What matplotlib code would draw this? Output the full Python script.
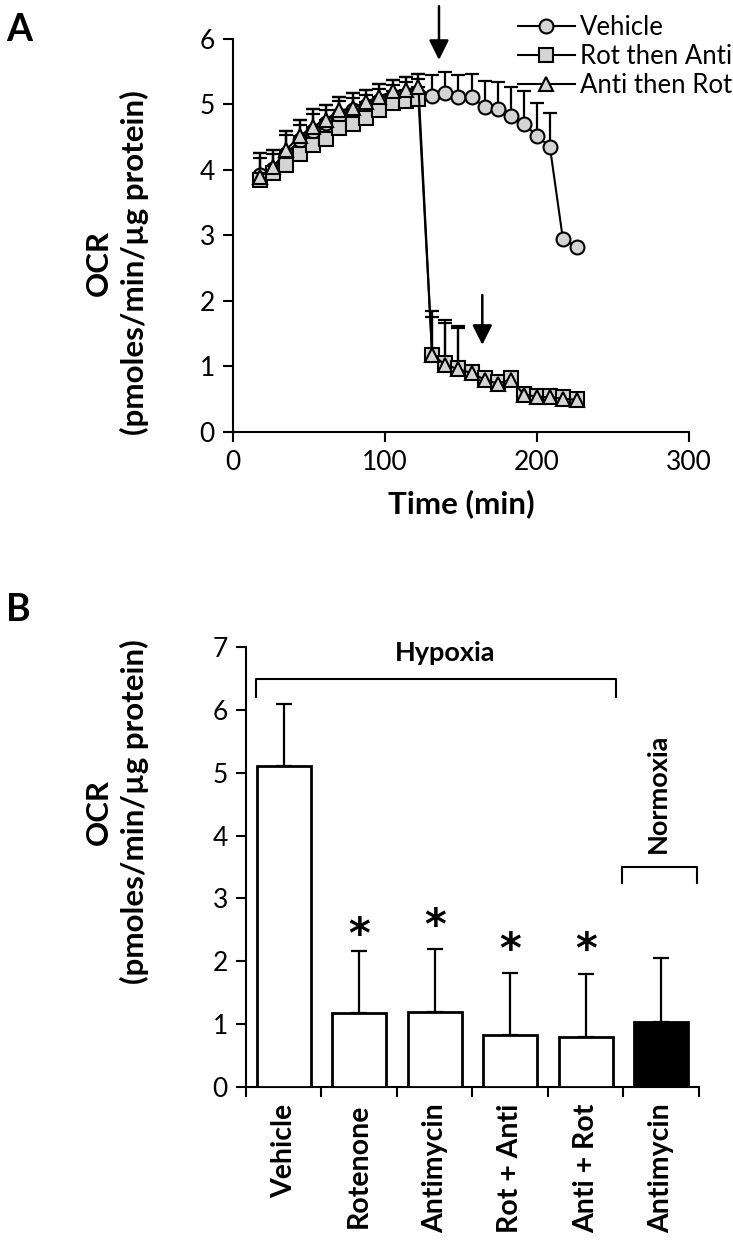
import matplotlib
matplotlib.use('Agg')
import matplotlib.pyplot as plt
import numpy as np

plt.rcParams['font.family'] = ['Lato', 'DejaVu Sans']

# --- Panel A data: OCR time course ---
time_min = [18, 26.5, 35, 44, 52.5, 61, 70, 79, 87.5, 96, 105, 113.5, 122,
            131, 139.5, 148, 157, 165.5, 174, 183, 191.5, 200, 208.5, 217, 226]

vehicle = [3.92, 4.02, 4.25, 4.45, 4.60, 4.72, 4.83, 4.92, 4.98, 5.05, 5.10, 5.14, 5.15,
           5.13, 5.18, 5.11, 5.12, 4.96, 4.93, 4.82, 4.70, 4.52, 4.35, 2.95, 2.82]
vehicle_err = [0.34, 0.29, 0.35, 0.31, 0.33, 0.27, 0.28, 0.25, 0.24, 0.26, 0.27, 0.28, 0.31,
               0.32, 0.32, 0.34, 0.35, 0.40, 0.42, 0.45, 0.50, 0.51, 0.52, 0.0, 0.0]

rot_then_anti = [3.85, 3.95, 4.08, 4.24, 4.38, 4.48, 4.64, 4.70, 4.80, 4.92, 5.02, 5.06, 5.08,
                 1.18, 1.05, 0.97, 0.91, 0.82, 0.77, 0.82, 0.58, 0.55, 0.55, 0.53, 0.51]
rot_then_anti_err = [0.34, 0.29, 0.45, 0.45, 0.48, 0.44, 0.41, 0.40, 0.35, 0.32, 0.28, 0.29, 0.31,
                     0.66, 0.66, 0.65, 0.0, 0.0, 0.0, 0.0, 0.0, 0.0, 0.0, 0.0, 0.0]

anti_then_rot = [3.90, 4.04, 4.31, 4.52, 4.66, 4.77, 4.91, 4.94, 5.04, 5.12, 5.20, 5.22, 5.27,
                 1.18, 1.03, 0.96, 0.90, 0.80, 0.74, 0.80, 0.57, 0.54, 0.53, 0.51, 0.49]
anti_then_rot_err = [0.36, 0.27, 0.29, 0.24, 0.27, 0.22, 0.21, 0.23, 0.18, 0.19, 0.17, 0.20, 0.19,
                     0.58, 0.63, 0.62, 0.0, 0.0, 0.0, 0.0, 0.0, 0.0, 0.0, 0.0, 0.0]

# injection arrows (time, tip value, tail value)
arrow_times = [135.5, 164]
arrow_tips = [5.68, 1.33]
arrow_tails = [6.5, 2.09]

# --- Panel B data: mean OCR per treatment ---
categories = ['Vehicle', 'Rotenone', 'Antimycin', 'Rot + Anti', 'Anti + Rot', 'Antimycin']
bar_values = [5.1, 1.18, 1.2, 0.82, 0.80, 1.04]
bar_errors = [1.0, 0.99, 0.99, 0.99, 0.99, 1.01]
bar_colors = ['white', 'white', 'white', 'white', 'white', 'black']
star_y = [None, 2.41, 2.55, 2.16, 2.16, None]

TICK_FS = 19
LABEL_FS = 22.5
fig = plt.figure(figsize=(7.33, 12.41), dpi=100)

# ---------------- Panel A ----------------
axA = fig.add_axes([0.3179, 0.6519, 0.6221, 0.3167])
series = [
    (vehicle, vehicle_err, 'o', 10, 'Vehicle', 3),
    (rot_then_anti, rot_then_anti_err, 's', 10.5, 'Rot then Anti', 4),
    (anti_then_rot, anti_then_rot_err, '^', 10.5, 'Anti then Rot', 5),
]
handles = []
for vals, err, mk, ms, lab, z in series:
    vals = np.array(vals)
    err = np.array(err)
    axA.errorbar(time_min, vals, yerr=[np.zeros_like(err), err], fmt='none',
                 ecolor='black', elinewidth=1.6, capsize=5, capthick=1.6, zorder=2)
    h, = axA.plot(time_min, vals, color='black', lw=1.5, marker=mk, markersize=ms,
                  markerfacecolor='#d4d4d4', markeredgecolor='black',
                  markeredgewidth=1.5, label=lab, zorder=z)
    handles.append(h)

for t, tip, tail in zip(arrow_times, arrow_tips, arrow_tails):
    axA.annotate('', xy=(t, tip), xytext=(t, tail), annotation_clip=False,
                 arrowprops=dict(arrowstyle='-|>', color='black', lw=1.8,
                                 mutation_scale=30, shrinkA=0, shrinkB=0))

axA.set_xlim(0, 300)
axA.set_ylim(0, 6)
axA.set_xticks([0, 100, 200, 300])
axA.set_yticks(range(7))
axA.spines['top'].set_visible(False)
axA.spines['right'].set_visible(False)
for s in ['left', 'bottom']:
    axA.spines[s].set_linewidth(1.5)
axA.tick_params(direction='out', length=7, width=1.5, labelsize=TICK_FS, pad=6)
axA.set_xlabel('Time (min)', fontsize=LABEL_FS, fontweight='bold', labelpad=10)
axA.set_ylabel('OCR\n(pmoles/min/µg protein)', fontsize=LABEL_FS,
               fontweight='bold', va='center', linespacing=1.3)
axA.yaxis.set_label_coords(-0.254, 0.43)

axA.legend(handles=handles, loc='upper left', bbox_to_anchor=(0.625, 1.06),
           frameon=False, fontsize=18.5, handlelength=2.2, handletextpad=0.2,
           labelspacing=0.15, borderpad=0, borderaxespad=0)

fig.text(0.008, 0.9895, 'A', fontsize=27, fontweight='bold', va='top')

# ---------------- Panel B ----------------
axB = fig.add_axes([0.3356, 0.1241, 0.618, 0.3545])
x = np.arange(len(categories))
axB.bar(x, bar_values, width=0.72, color=bar_colors, edgecolor='black',
        linewidth=2, zorder=3)
axB.errorbar(x, bar_values, yerr=[np.zeros(len(bar_errors)), bar_errors],
             fmt='none', ecolor='black', elinewidth=1.6, capsize=6, capthick=1.6,
             zorder=2)
for xi, sy in zip(x, star_y):
    if sy is not None:
        axB.text(xi, sy, '*', fontsize=30, fontweight='bold', ha='center',
                 va='center', family='DejaVu Sans')

# brackets
axB.plot([-0.37, -0.37, 4.40, 4.40], [6.2, 6.49, 6.49, 6.2], color='black',
         lw=1.5, clip_on=False)
axB.text(2.14, 6.91, 'Hypoxia', fontsize=19.5, fontweight='bold', ha='center',
         va='center')
axB.plot([4.48, 4.48, 5.47, 5.47], [3.24, 3.5, 3.5, 3.24], color='black',
         lw=1.5, clip_on=False)
axB.text(4.95, 4.68, 'Normoxia', fontsize=19.5, fontweight='bold', ha='center',
         va='center', rotation=90)

axB.set_xlim(-0.5, 5.5)
axB.set_ylim(0, 7)
axB.set_yticks(range(8))
axB.set_xticks(np.arange(-0.5, 6, 1.0))
axB.set_xticklabels([])
axB.set_xticks(x, minor=True)
axB.set_xticklabels(categories, minor=True, rotation=90, fontsize=20.5,
                    fontweight='bold')
axB.tick_params(axis='x', which='minor', length=0, pad=12)
axB.spines['top'].set_visible(False)
axB.spines['right'].set_visible(False)
for s in ['left', 'bottom']:
    axB.spines[s].set_linewidth(1.5)
axB.tick_params(which='major', direction='out', length=7, width=1.5,
                labelsize=TICK_FS, pad=6)
axB.set_ylabel('OCR\n(pmoles/min/µg protein)', fontsize=LABEL_FS,
               fontweight='bold', va='center', linespacing=1.3)
axB.yaxis.set_label_coords(-0.285, 0.625)

fig.text(0.008, 0.522, 'B', fontsize=27, fontweight='bold', va='top')

plt.savefig('out.png', dpi=100)
